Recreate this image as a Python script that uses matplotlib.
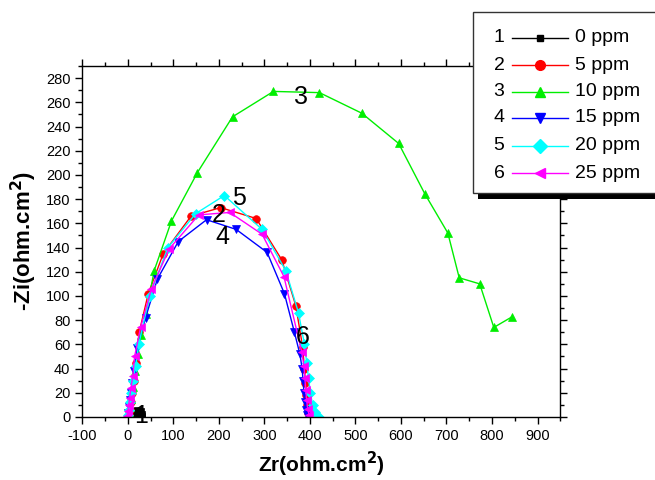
import matplotlib.pyplot as plt
from matplotlib.patches import Rectangle
from matplotlib.lines import Line2D
from matplotlib.ticker import MultipleLocator

plt.rcParams['font.family'] = ['Liberation Sans', 'DejaVu Sans']
plt.rcParams['axes.unicode_minus'] = False

# Nyquist data
zr_0 = [15, 17, 20, 23, 26, 28, 30]
zi_0 = [0, 2, 4, 5, 4, 2, 0]

zr_5 = [2, 4, 6, 9, 13, 18, 25, 45, 78, 139, 204, 282, 338, 369, 384, 388, 390, 392, 394, 396]
zi_5 = [2, 6, 12, 20, 30, 45, 70, 102, 135, 166, 173, 164, 130, 92, 58, 40, 28, 18, 10, 3]

zr_10 = [2, 4, 7, 11, 16, 22, 30, 40, 58, 96, 153, 230, 320, 421, 514, 595, 653, 703, 728, 773, 804, 845]
zi_10 = [3, 8, 15, 25, 38, 52, 68, 85, 121, 162, 202, 248, 269, 268, 251, 226, 184, 152, 115, 110, 74, 83]

zr_15 = [0, 2, 4, 7, 10, 14, 21, 39, 65, 111, 173, 238, 306, 344, 366, 378, 383, 385, 387, 389, 391, 393]
zi_15 = [3, 8, 14, 20, 28, 38, 57, 82, 114, 145, 163, 155, 136, 102, 70, 52, 40, 30, 20, 12, 6, 2]

zr_20 = [1, 3, 5, 8, 12, 17, 24, 48, 88, 149, 212, 295, 347, 375, 388, 393, 397, 401, 406, 412, 420]
zi_20 = [2, 6, 12, 20, 30, 42, 60, 100, 140, 168, 183, 155, 121, 86, 60, 45, 32, 20, 10, 4, 0]

zr_25 = [-2, 0, 2, 4, 7, 11, 15, 28, 52, 91, 156, 224, 295, 343, 382, 387, 389, 391, 393, 395, 398]
zi_25 = [1, 5, 10, 16, 24, 34, 50, 74, 106, 139, 167, 169, 151, 116, 54, 42, 32, 22, 14, 7, 2]

series = [
    ('1', '0 ppm', zr_0, zi_0, 'black', 's'),
    ('2', '5 ppm', zr_5, zi_5, 'red', 'o'),
    ('3', '10 ppm', zr_10, zi_10, '#00ee00', '^'),
    ('4', '15 ppm', zr_15, zi_15, 'blue', 'v'),
    ('5', '20 ppm', zr_20, zi_20, 'cyan', 'D'),
    ('6', '25 ppm', zr_25, zi_25, 'magenta', '<'),
]

# curve numbers placed next to each curve (data coords)
label_x = [30, 200, 380, 208, 245, 385]
label_y = [1, 167, 264, 149, 181, 66]

fig = plt.figure(figsize=(6.55, 4.8), dpi=100)
ax = fig.add_axes([0.1256, 0.13125, 0.7298, 0.73125])

for (num, name, x, y, col, mk), lx, ly in zip(series, label_x, label_y):
    ms = 5.5 if mk != 'D' else 5
    ax.plot(x, y, color=col, marker=mk, markersize=ms, linewidth=1, markeredgewidth=0.5)
    ax.text(lx, ly, num, fontsize=18, va='center', ha='center', zorder=5)

ax.set_xlim(-100, 950)
ax.set_ylim(0, 290)
ax.xaxis.set_major_locator(MultipleLocator(100))
ax.xaxis.set_minor_locator(MultipleLocator(50))
ax.yaxis.set_major_locator(MultipleLocator(20))
ax.yaxis.set_minor_locator(MultipleLocator(10))
ax.tick_params(which='both', direction='out', labelsize=10.5, width=1)
ax.tick_params(which='major', length=5)
ax.tick_params(which='minor', length=3)
ax.tick_params(which='both', top=True, right=True)
for sp in ax.spines.values():
    sp.set_linewidth(1)

ax.set_xlabel('Zr(ohm.cm$^\\mathbf{2}$)', fontsize=15, fontweight='bold', labelpad=5)
ax.set_ylabel('-Zi(ohm.cm$^\\mathbf{2}$)', fontsize=16, fontweight='bold', labelpad=5)

# legend box drawn Origin-style with shadow (figure pixel coords)
W, H = 655, 480
def fx(p):
    return p / W
def fy(p):
    return 1 - p / H

fig.patches.append(Rectangle((fx(478), fy(199)), fx(300), fy(17) - fy(199),
                             transform=fig.transFigure, facecolor='black', edgecolor='none', zorder=10))
fig.patches.append(Rectangle((fx(473), fy(193)), fx(300), fy(12) - fy(193),
                             transform=fig.transFigure, facecolor='white', edgecolor='#333333',
                             linewidth=1, zorder=11))

rows = [38, 65, 92, 118, 146, 173]
for (num, name, x, y, col, mk), r in zip(series, rows):
    fig.text(fx(499), fy(r), num, fontsize=14, ha='center', va='center', zorder=12)
    fig.add_artist(Line2D([fx(512), fx(568)], [fy(r), fy(r)], transform=fig.transFigure,
                          color=col, linewidth=1, zorder=12))
    fig.add_artist(Line2D([fx(540)], [fy(r)], transform=fig.transFigure, color=col,
                          marker=mk, markersize=7 if mk != 's' else 5, linestyle='none', zorder=12))
    fig.text(fx(575), fy(r), name, fontsize=14, ha='left', va='center', zorder=12)

fig.savefig('out.png', dpi=100)
